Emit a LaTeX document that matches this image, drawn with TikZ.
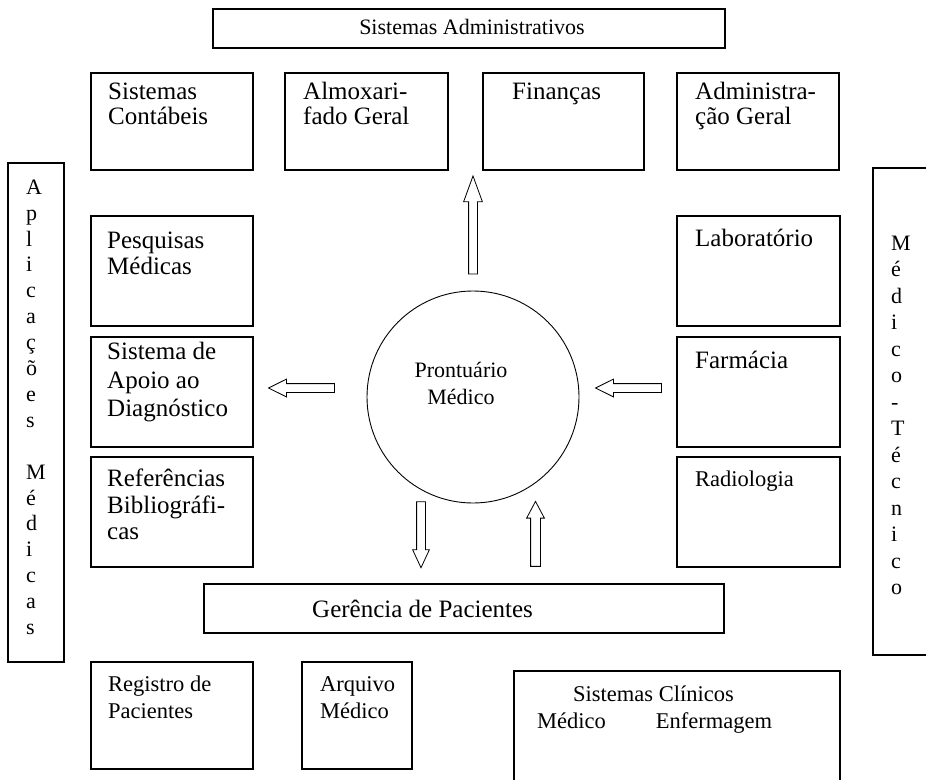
\documentclass[tikz,border=0pt]{standalone}
\usepackage{fontspec}
\setmainfont{Liberation Serif}
\usetikzlibrary{shapes.arrows}
\newcommand\mystrut{\rule{0pt}{0.75em}}
\begin{document}
\begin{tikzpicture}[x=1pt,y=-1pt,
  boxx/.style={draw, line width=1.1pt, inner sep=0pt, rectangle},
  lbl/.style={anchor=north west, align=left, inner sep=0pt, font=\fontsize{25}{27}\selectfont},
  lbs/.style={anchor=north west, align=left, inner sep=0pt, font=\fontsize{22.5}{27}\selectfont},
  barrow/.style={draw, line width=0.8pt, single arrow, outer sep=0pt}]
\clip (0,0) rectangle (926,779);
% boxes
\node[boxx, minimum width=512pt, minimum height=39pt] (sa) at (469,28.5) {};
\node[boxx, minimum width=162pt, minimum height=97pt] (c1) at (172,121.5) {};
\node[boxx, minimum width=163pt, minimum height=97pt] (c2) at (366.5,121.5) {};
\node[boxx, minimum width=161pt, minimum height=97pt] (c3) at (563.5,121.5) {};
\node[boxx, minimum width=162pt, minimum height=97pt] (c4) at (758,121.5) {};
\node[boxx, minimum width=56pt, minimum height=499pt] (lt) at (36,412.5) {};
\node[boxx, minimum width=162pt, minimum height=110pt] (p1) at (172,271) {};
\node[boxx, minimum width=162pt, minimum height=110pt] (p2) at (172,392) {};
\node[boxx, minimum width=162pt, minimum height=110pt] (p3) at (172,512) {};
\node[boxx, minimum width=163pt, minimum height=110pt] (r1) at (758.5,271) {};
\node[boxx, minimum width=163pt, minimum height=110pt] (r2) at (758.5,392) {};
\node[boxx, minimum width=163pt, minimum height=110pt] (r3) at (758.5,512) {};
\node[boxx, minimum width=77pt, minimum height=487pt] (rt) at (911.5,411.5) {};
\node[boxx, minimum width=520pt, minimum height=49pt] (ger) at (464,608.5) {};
\node[boxx, minimum width=162pt, minimum height=107pt] (reg) at (172,715.5) {};
\node[boxx, minimum width=110pt, minimum height=107pt] (arq) at (357,715.5) {};
\node[boxx, minimum width=326pt, minimum height=129pt] (cli) at (677,735.5) {};
% circle
\node[draw, circle, line width=0.9pt, minimum size=212pt, inner sep=0pt] (pm) at (473,397) {};
% block arrows
\node[barrow, inner sep=4pt, minimum height=98pt, single arrow head extend=5pt, single arrow tip angle=40, shape border rotate=90] (aup) at (473,231) {};
\node[barrow, inner sep=4pt, minimum height=66pt, single arrow head extend=4.5pt, single arrow tip angle=53, shape border rotate=180] (aleft) at (306,388) {};
\node[barrow, inner sep=4pt, minimum height=66pt, single arrow head extend=4.5pt, single arrow tip angle=53, shape border rotate=180] (aright) at (633,388) {};
\node[barrow, inner sep=4pt, minimum height=66pt, single arrow head extend=4pt, single arrow tip angle=50, shape border rotate=270] (adown) at (421,530) {};
\node[barrow, inner sep=4.5pt, minimum height=65pt, single arrow head extend=4pt, single arrow tip angle=56, shape border rotate=90] (aup2) at (535.5,538.5) {};
% labels
\node[anchor=base, inner sep=0pt, font=\fontsize{22}{25}\selectfont] (tsa) at (472,34) {Sistemas Administrativos};
\node[lbl, font=\fontsize{25}{25}\selectfont] (t1) at (108,81) {\mystrut Sistemas\\Contábeis};
\node[lbl, font=\fontsize{25}{25}\selectfont] (t2) at (303,81) {\mystrut Almoxari-\\fado Geral};
\node[lbl] (t3) at (512,81) {\mystrut Finanças};
\node[lbl, font=\fontsize{25}{25}\selectfont] (t4) at (695,81) {\mystrut Administra-\\ção Geral};
\node[lbl, font=\fontsize{25}{26}\selectfont] (tp1) at (107,230) {\mystrut Pesquisas\\Médicas};
\node[lbl, font=\fontsize{25}{28.5}\selectfont] (tp2) at (107,341) {\mystrut Sistema de\\Apoio ao\\Diagnóstico};
\node[lbl, font=\fontsize{25}{26.5}\selectfont] (tp3) at (107,468) {\mystrut Referências\\Bibliográfi-\\cas};
\node[lbl] (tr1) at (695,228) {\mystrut Laboratório};
\node[lbl] (tr2) at (695,350) {\mystrut Farmácia};
\node[lbs] (tr3) at (695,469.5) {\mystrut Radiologia};
\node[lbl] (tger) at (312,599) {\mystrut Gerência de Pacientes};
\node[lbs] (treg) at (108,674.5) {\mystrut Registro de\\Pacientes};
\node[lbs] (tarq) at (320,674.5) {\mystrut Arquivo\\Médico};
\node[lbs] (tcli) at (573,684.5) {\mystrut Sistemas Clínicos};
\node[lbs] (tcli2) at (537,711.5) {\mystrut Médico\hspace{50pt}Enfermagem};
\node[anchor=north, align=center, inner sep=0pt, font=\fontsize{22}{27}\selectfont] (tpm) at (461,360.5) {\mystrut Prontuário\\Médico};
\node[anchor=north west, align=left, inner sep=0pt, font=\fontsize{22}{25.9}\selectfont] (tlt) at (26,177.5)
  {\mystrut A\\p\\l\\i\\c\\a\\ç\\õ\\e\\s\\[25.9pt]M\\é\\d\\i\\c\\a\\s};
\node[anchor=north west, align=left, inner sep=0pt, font=\fontsize{22}{26.5}\selectfont] (trt) at (891,233.5)
  {\mystrut M\\é\\d\\i\\c\\o\\-\\T\\é\\c\\n\\i\\c\\o};
\end{tikzpicture}
\end{document}
